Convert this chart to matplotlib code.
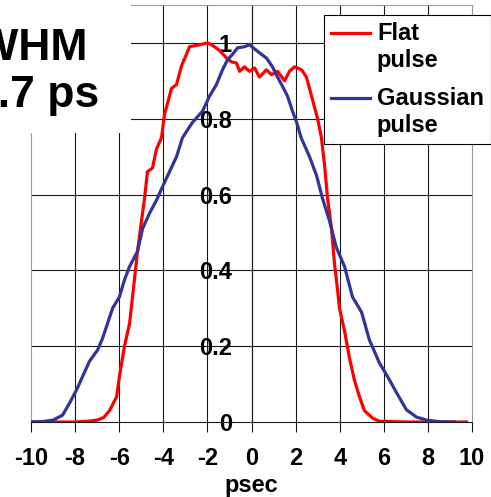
import matplotlib
matplotlib.use("Agg")
import matplotlib.pyplot as plt
from matplotlib.lines import Line2D
from matplotlib.patches import Rectangle
from matplotlib.legend_handler import HandlerLine2D

# ---- data ----
flat_x = [-10, -9, -8, -7.4, -7.0, -6.7, -6.44, -6.12, -5.99, -5.76, -5.53, -5.31, -5.17,
          -4.99, -4.85, -4.72, -4.49, -4.31, -4.08, -3.95, -3.72, -3.63, -3.40, -3.17, -2.95,
          -2.81, -2.36, -2.0, -1.81, -1.68, -1.45, -1.13, -0.91, -0.68, -0.54, -0.32, -0.09,
          0.14, 0.36, 0.68, 0.91, 1.18, 1.50, 1.72, 1.95, 2.27, 2.49, 2.63, 2.86, 3.0, 3.17,
          3.31, 3.45, 3.63, 3.76, 3.90, 3.99, 4.22, 4.44, 4.67, 4.90, 5.12, 5.5, 5.8, 7, 8.5, 9.75]
flat_y = [0, 0, 0, 0.002, 0.005, 0.012, 0.03, 0.066, 0.12, 0.2, 0.26, 0.375, 0.45,
          0.53, 0.59, 0.66, 0.67, 0.72, 0.75, 0.81, 0.86, 0.88, 0.89, 0.94, 0.97,
          0.99, 0.995, 1.0, 0.995, 0.99, 0.98, 0.96, 0.95, 0.947, 0.925, 0.937, 0.925,
          0.934, 0.91, 0.929, 0.916, 0.925, 0.90, 0.925, 0.937, 0.929, 0.91, 0.88, 0.83, 0.80, 0.75,
          0.68, 0.59, 0.51, 0.42, 0.35, 0.30, 0.24, 0.17, 0.11, 0.066, 0.03, 0.01, 0.002, 0, 0, 0]

gauss_x = [-10, -9.5, -9.0, -8.57, -8.25, -7.94, -7.66, -7.35, -6.98, -6.76, -6.53, -6.30,
           -5.99, -5.76, -5.53, -5.17, -4.94, -4.63, -4.31, -4.04, -3.72, -3.40, -3.13, -2.68,
           -2.22, -1.90, -1.59, -1.31, -1.09, -0.86, -0.63, -0.32, -0.09, 0.23, 0.45, 0.68,
           0.95, 1.18, 1.41, 1.63, 1.86, 2.05, 2.25, 2.63, 2.95, 3.22, 3.54, 3.85, 4.22, 4.58,
           4.99, 5.35, 5.80, 6.17, 6.58, 7.03, 7.48, 7.94, 8.5, 9.2]
gauss_y = [0, 0.001, 0.005, 0.018, 0.05, 0.084, 0.12, 0.16, 0.19, 0.22, 0.26, 0.30,
           0.33, 0.375, 0.41, 0.45, 0.51, 0.55, 0.585, 0.62, 0.66, 0.70, 0.75, 0.79,
           0.82, 0.86, 0.89, 0.93, 0.955, 0.97, 0.987, 0.99, 0.995, 0.98, 0.97, 0.96,
           0.937, 0.91, 0.885, 0.86, 0.82, 0.79, 0.75, 0.70, 0.65, 0.59, 0.53, 0.46, 0.41, 0.33,
           0.29, 0.216, 0.156, 0.12, 0.077, 0.032, 0.013, 0.005, 0.001, 0]

x_ticks = [-10, -8, -6, -4, -2, 0, 2, 4, 6, 8, 10]
y_ticks = [0, 0.2, 0.4, 0.6, 0.8, 1.0]
y_tick_labels = ["0", "0.2", "0.4", "0.6", "0.8", "1"]
series_labels = ["Flat\npulse", "Gaussian\npulse"]
x_label = "psec"
note_line1 = "FWHM"
note_line2 = "8.7 ps"

RED = "#ff0000"
BLUE = "#333399"
GRID = "#1a1a1a"
FRAME = "#9a9a9a"

plt.rcParams['font.family'] = ['Liberation Sans', 'DejaVu Sans']
plt.rcParams['font.weight'] = 'bold'
plt.rcParams['axes.unicode_minus'] = False

W, H = 491, 497
fig = plt.figure(figsize=(W / 100, H / 100), dpi=100)
ax = fig.add_axes([31 / W, (H - 422) / H, (472 - 31) / W, (422 - 5) / H])

ax.set_xlim(-10, 10)
ax.set_ylim(0, 1.1)

ax.plot(flat_x, flat_y, color=RED, lw=2.3, zorder=3, solid_joinstyle='round')
ax.plot(gauss_x, gauss_y, color=BLUE, lw=2.3, zorder=4, solid_joinstyle='round')

# grid
ax.set_xticks(x_ticks)
ax.set_yticks(y_ticks)
ax.set_yticklabels(y_tick_labels)
for xv in x_ticks[1:-1]:
    ax.axvline(xv, color=GRID, lw=0.8, zorder=1)
for yv in y_ticks[1:]:
    ax.axhline(yv, color=GRID, lw=0.8, zorder=1)

# spines
ax.spines['left'].set_position(('data', 0))
ax.spines['left'].set_color(GRID)
ax.spines['left'].set_linewidth(0.8)
ax.spines['top'].set_color(FRAME)
ax.spines['right'].set_color(FRAME)
ax.spines['bottom'].set_color(GRID)
for s in ['top', 'right', 'bottom']:
    ax.spines[s].set_linewidth(0.8)
ax.axvline(-10, color=FRAME, lw=0.8, zorder=1, clip_on=False)

ax.tick_params(axis='y', length=0, pad=14, labelsize=17)
ax.tick_params(axis='x', length=7, width=0.8, color=GRID, pad=11, labelsize=17)
for lab in ax.get_xticklabels() + ax.get_yticklabels():
    lab.set_fontweight('bold')
ax.set_xlabel(x_label, fontsize=17, fontweight='bold', labelpad=3)


class TopLineHandler(HandlerLine2D):
    """Place the legend line beside the first line of a two-line label."""
    def create_artists(self, legend, orig_handle, xdescent, ydescent, width, height,
                       fontsize, trans):
        artists = super().create_artists(legend, orig_handle, xdescent, ydescent,
                                         width, height, fontsize, trans)
        for a in artists:
            y = a.get_ydata()
            a.set_ydata([v + 0.62 * fontsize for v in y])
        return artists


handles = [Line2D([], [], color=RED, lw=2.3), Line2D([], [], color=BLUE, lw=2.3)]
leg = fig.legend(handles, series_labels, loc='upper right',
                 bbox_to_anchor=(1.0, 1 - 15 / H), bbox_transform=fig.transFigure,
                 fancybox=False, framealpha=1, edgecolor='black',
                 prop={'size': 17, 'weight': 'bold'},
                 handlelength=1.65, handletextpad=0.3, labelspacing=0.66,
                 borderpad=0.3, borderaxespad=0,
                 handler_map={Line2D: TopLineHandler()})
leg.get_frame().set_linewidth(0.8)

# white box with annotation in the upper left
fig.patches.append(Rectangle((0, 1 - 133 / H), 131 / W, 133 / H, transform=fig.transFigure,
                             facecolor='white', edgecolor='none', zorder=10))
fig.text(88 / W, 1 - 60 / H, note_line1, fontsize=32, fontweight='bold',
         ha='right', va='baseline', zorder=11)
fig.text(99 / W, 1 - 107 / H, note_line2, fontsize=32, fontweight='bold',
         ha='right', va='baseline', zorder=11)

fig.savefig("out.png", dpi=100)
